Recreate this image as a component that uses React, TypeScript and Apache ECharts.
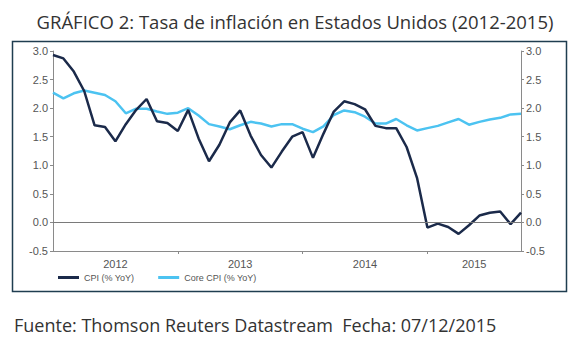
import React, { useEffect, useRef } from "react";
import * as echarts from "echarts";

const months: number[] = Array.from({ length: 46 }, (_, i) => i); // Jan 2012 .. Oct 2015
const cpi: number[] = [
  2.93, 2.87, 2.64, 2.3, 1.7, 1.67, 1.42, 1.72, 1.97, 2.16, 1.77, 1.74,
  1.6, 1.97, 1.47, 1.07, 1.36, 1.75, 1.96, 1.52, 1.18, 0.96, 1.24, 1.5,
  1.58, 1.13, 1.55, 1.94, 2.12, 2.07, 1.98, 1.69, 1.65, 1.65, 1.32, 0.78,
  -0.09, -0.02, -0.08, -0.2, -0.05, 0.12, 0.17, 0.19, -0.03, 0.17,
];
const coreCpi: number[] = [
  2.27, 2.17, 2.26, 2.31, 2.27, 2.23, 2.12, 1.91, 1.99, 1.99, 1.94, 1.9,
  1.92, 2.0, 1.87, 1.72, 1.68, 1.63, 1.7, 1.76, 1.73, 1.68, 1.72, 1.72,
  1.64, 1.58, 1.68, 1.88, 1.96, 1.93, 1.85, 1.73, 1.73, 1.81, 1.7, 1.61,
  1.65, 1.69, 1.75, 1.81, 1.71, 1.76, 1.8, 1.83, 1.89, 1.9,
];
const yearTicks: number[] = [12, 24, 36];
const yearLabelPos: number[] = [6, 18, 30, 40.5];
const yearLabels: string[] = ["2012", "2013", "2014", "2015"];
const seriesNames: string[] = ["CPI (% YoY)", "Core CPI (% YoY)"];

export default function App() {
  const ref = useRef<HTMLDivElement>(null);
  useEffect(() => {
    if (!ref.current) return;
    const chart = echarts.init(ref.current, null, { renderer: "svg" });
    const axisColor = "#8a8a8a";
    const labelColor = "#555";
    const yAxisBase = {
      type: "value" as const,
      min: -0.5,
      max: 3.0,
      interval: 0.5,
      axisLine: { show: true, lineStyle: { color: axisColor, width: 1 } },
      axisTick: { show: true, length: 3, lineStyle: { color: axisColor } },
      splitLine: { show: false },
      axisLabel: {
        color: labelColor,
        fontSize: 11,
        fontFamily: "Liberation Sans, Arial",
        margin: 5,
        formatter: (v: number) => v.toFixed(1),
      },
    };
    chart.setOption({
      animation: false,
      backgroundColor: "#fff",
      grid: { left: 53, right: 57, top: 51, bottom: 90 },
      xAxis: {
        type: "value",
        min: 0,
        max: months.length - 1,
        axisLine: { show: true, onZero: false, lineStyle: { color: axisColor } },
        axisTick: {
          show: true,
          length: 3,
          customValues: yearTicks,
          lineStyle: { color: axisColor },
        },
        splitLine: { show: false },
        axisLabel: {
          customValues: yearLabelPos,
          color: labelColor,
          fontSize: 11,
          fontFamily: "Liberation Sans, Arial",
          margin: 7,
          formatter: (v: number) => yearLabels[yearLabelPos.indexOf(v)] ?? "",
        },
      },
      yAxis: [
        { ...yAxisBase, position: "left" },
        { ...yAxisBase, position: "right" },
      ],
      legend: {
        left: 53,
        top: 268,
        itemWidth: 21,
        itemHeight: 3,
        itemGap: 24,
        icon: "rect",
        textStyle: { color: "#555", fontSize: 9, fontFamily: "Liberation Sans, Arial" },
        data: seriesNames,
      },
      series: [
        {
          name: seriesNames[0],
          type: "line",
          data: months.map((m, i) => [m, cpi[i]]),
          showSymbol: false,
          symbol: "none",
          z: 3,
          lineStyle: { color: "#1b2a4a", width: 2.5 },
          itemStyle: { color: "#1b2a4a" },
          markLine: {
            silent: true,
            symbol: "none",
            label: { show: false },
            lineStyle: { color: "#7a7a7a", width: 1, type: "solid" },
            data: [{ yAxis: 0 }],
          },
        },
        {
          name: seriesNames[1],
          type: "line",
          data: months.map((m, i) => [m, coreCpi[i]]),
          showSymbol: false,
          symbol: "none",
          z: 2,
          lineStyle: { color: "#4cc3f1", width: 2.5 },
          itemStyle: { color: "#4cc3f1" },
        },
      ],
      graphic: [
        {
          type: "rect",
          shape: { x: 12.5, y: 41.5, width: 554, height: 250 },
          style: { fill: "none", stroke: "#1f3d50", lineWidth: 1.5 },
          silent: true,
        },
        {
          type: "text",
          x: 295,
          y: 21,
          style: {
            text: "GRÁFICO 2: Tasa de inflación en Estados Unidos (2012-2015)",
            font: "18.5px 'Open Sans'",
            fill: "#333",
            textAlign: "center",
            textVerticalAlign: "middle",
          },
        },
        {
          type: "text",
          x: 14,
          y: 325,
          style: {
            text: "Fuente: Thomson Reuters Datastream  Fecha: 07/12/2015",
            font: "18px 'Open Sans'",
            fill: "#333",
            textAlign: "left",
            textVerticalAlign: "middle",
          },
        },
      ],
    });
    return () => chart.dispose();
  }, []);
  return (
    <div
      ref={ref}
      style={{ position: "fixed", left: 0, top: 0, width: 578, height: 341 }}
    />
  );
}
